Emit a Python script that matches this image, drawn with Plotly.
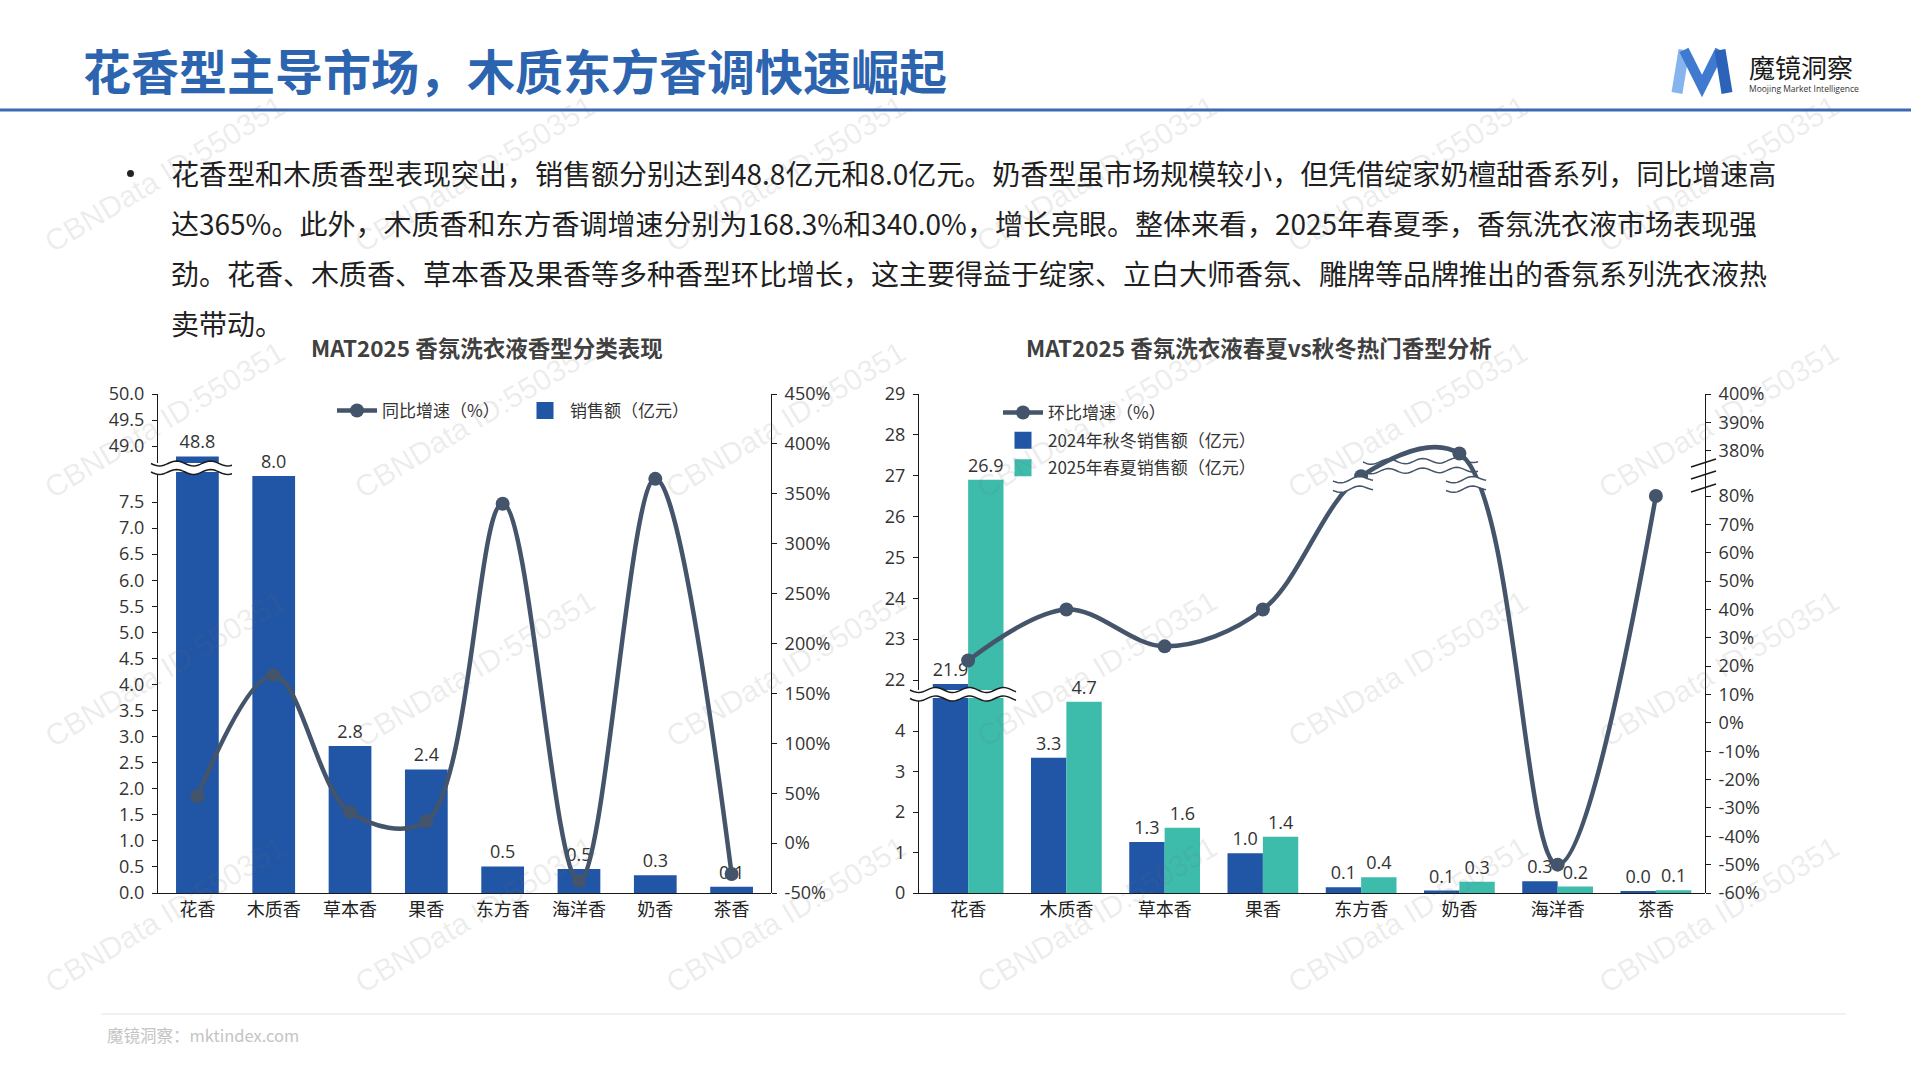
import math
import plotly.graph_objects as go

W, H = 1911, 1080

# ---------------- data ----------------
page_title = "花香型主导市场，木质东方香调快速崛起"
body_lines = [
    "花香型和木质香型表现突出，销售额分别达到48.8亿元和8.0亿元。奶香型虽市场规模较小，但凭借绽家奶檀甜香系列，同比增速高",
    "达365%。此外，木质香和东方香调增速分别为168.3%和340.0%，增长亮眼。整体来看，2025年春夏季，香氛洗衣液市场表现强",
    "劲。花香、木质香、草本香及果香等多种香型环比增长，这主要得益于绽家、立白大师香氛、雕牌等品牌推出的香氛系列洗衣液热",
    "卖带动。",
]
left_title = "MAT2025 香氛洗衣液香型分类表现"
right_title = "MAT2025 香氛洗衣液春夏vs秋冬热门香型分析"
footer_text = "魔镜洞察：mktindex.com"
watermark_text = "CBNData ID:550351"

left_categories = ["花香", "木质香", "草本香", "果香", "东方香", "海洋香", "奶香", "茶香"]
left_sales = [48.8, 8.0, 2.82, 2.37, 0.51, 0.46, 0.34, 0.12]
left_yoy = [47, 168.3, 31, 22, 340.0, -38, 365, -31]
left_sales_name = "销售额（亿元）"
left_yoy_name = "同比增速（%）"
left_lower_ticks = [0.0, 0.5, 1.0, 1.5, 2.0, 2.5, 3.0, 3.5, 4.0, 4.5, 5.0, 5.5, 6.0, 6.5, 7.0, 7.5]
left_upper_ticks = [49.0, 49.5, 50.0]
left_pct_ticks = [-50, 0, 50, 100, 150, 200, 250, 300, 350, 400, 450]

right_categories = ["花香", "木质香", "草本香", "果香", "东方香", "奶香", "海洋香", "茶香"]
right_aw2024 = [21.9, 3.34, 1.26, 0.98, 0.14, 0.06, 0.29, 0.04]
right_ss2025 = [26.9, 4.72, 1.61, 1.39, 0.39, 0.28, 0.16, 0.07]
right_qoq = [22, 40, 27, 40, 371, 379, -50, 80]
right_aw_name = "2024年秋冬销售额（亿元）"
right_ss_name = "2025年春夏销售额（亿元）"
right_qoq_name = "环比增速（%）"
right_lower_ticks = [0, 1, 2, 3, 4]
right_upper_ticks = [22, 23, 24, 25, 26, 27, 28, 29]
right_pct_ticks = [-60, -50, -40, -30, -20, -10, 0, 10, 20, 30, 40, 50, 60, 70, 80, 380, 390, 400]

# ---------------- styles ----------------
BLUE = "#2155a5"
TEAL = "#3dbcac"
SLATE = "#44546a"
AXIS = "#1a1a1a"
LABEL = "#333333"
FONT = "Open Sans, Noto Sans CJK SC, sans-serif"
CJK = "Noto Sans CJK SC, sans-serif"


def fx(px):
    return px / W


def fy(py):
    return 1 - py / H


# broken-axis geometry (pixels)
L_X = (158, 771)
L_LOW = (472, 893)
L_UP = (394, 463)
L_LOW_RANGE = (0, (893 - 472) / 52.13)
L_UP_RANGE = (50 - (463 - 394) / 52.0, 50)

R_X = (919, 1705)
R_LOW = (698, 893)
R_UP = (394, 690)
R_LOW_RANGE = (0, (893 - 698) / 40.5)
R_UP_RANGE = (22 - (690 - 680) / 40.86, 29)

# right % axis is compressed above the break
PCT_BREAK = 200
PCT_OFFSET = 284


def pct_disp(v):
    return v - PCT_OFFSET if v > PCT_BREAK else v


def rotate(seq):
    # start the upper-segment traces with a point that lies below the visible range,
    # so the legend swatch (styled from the first point) can be enlarged without
    # changing any visible bar
    return list(seq[1:]) + list(seq[:1])


def swatch_line(n, color):
    return dict(color=color, width=[5] + [0] * (n - 1))


fig = go.Figure()

# ---------------- left chart ----------------
low_top = L_LOW_RANGE[1]
fig.add_trace(go.Bar(
    x=left_categories, y=[min(v, low_top) for v in left_sales],
    text=[f"{v:.1f}" if v <= low_top else "" for v in left_sales],
    textposition="outside", constraintext="none", cliponaxis=False, textangle=0,
    textfont=dict(size=18, color=LABEL, family=FONT),
    marker=dict(color=BLUE, line=dict(width=0)), width=0.56,
    xaxis="x", yaxis="y", showlegend=False,
))
fig.add_trace(go.Bar(
    x=rotate(left_categories), y=rotate(left_sales),
    text=rotate([f"{v:.1f}" if v >= L_UP_RANGE[0] else "" for v in left_sales]),
    textposition="outside", constraintext="none", cliponaxis=True, textangle=0,
    textfont=dict(size=18, color=LABEL, family=FONT),
    marker=dict(color=BLUE, line=swatch_line(len(left_sales), BLUE)), width=0.56,
    xaxis="x", yaxis="y2", name=left_sales_name, legend="legend", legendrank=2,
))
fig.add_trace(go.Scatter(
    x=left_categories, y=left_yoy, mode="lines+markers",
    line=dict(color=SLATE, width=4.5, shape="spline", smoothing=1.0),
    marker=dict(color=SLATE, size=14), cliponaxis=False,
    xaxis="x", yaxis="y3", name=left_yoy_name, legend="legend", legendrank=1,
))

# ---------------- right chart ----------------
rlow_top = R_LOW_RANGE[1]
for vals, col, name, off, rank in [(right_aw2024, BLUE, right_aw_name, -0.36, 2),
                                    (right_ss2025, TEAL, right_ss_name, 0.0, 3)]:
    fig.add_trace(go.Bar(
        x=right_categories, y=[min(v, rlow_top) for v in vals],
        text=[f"{v:.1f}" if v <= rlow_top else "" for v in vals],
        textposition="outside", constraintext="none", cliponaxis=False, textangle=0,
        textfont=dict(size=18, color=LABEL, family=FONT),
        marker=dict(color=col, line=dict(width=0)), width=0.36, offset=off,
        xaxis="x2", yaxis="y4", showlegend=False,
    ))
    fig.add_trace(go.Bar(
        x=rotate(right_categories), y=rotate(vals),
        text=rotate([f"{v:.1f}" if v >= R_UP_RANGE[0] else "" for v in vals]),
        textposition="outside", constraintext="none", cliponaxis=True, textangle=0,
        textfont=dict(size=18, color=LABEL, family=FONT),
        marker=dict(color=col, line=swatch_line(len(vals), col)), width=0.36, offset=off,
        xaxis="x2", yaxis="y5", name=name, legend="legend2", legendrank=rank,
        legendgroup=name,
    ))
fig.add_trace(go.Scatter(
    x=right_categories, y=[pct_disp(v) for v in right_qoq], mode="lines+markers",
    line=dict(color=SLATE, width=4.5, shape="spline", smoothing=1.0),
    marker=dict(color=SLATE, size=14), cliponaxis=False,
    xaxis="x2", yaxis="y6", name=right_qoq_name, legend="legend2", legendrank=1,
    legendgroup=right_qoq_name,
))

# ---------------- axes ----------------
tickfont = dict(size=18, color=LABEL, family=FONT)
catfont = dict(size=18, color="#222222", family=CJK)
yax_common = dict(showgrid=False, zeroline=False, showline=True, linecolor=AXIS, linewidth=1,
                  ticks="outside", ticklen=5, tickcolor=AXIS, tickwidth=1, tickfont=tickfont,
                  fixedrange=True, ticklabelstandoff=4, automargin=False)
xax_common = dict(type="category", showgrid=False, zeroline=False, showline=True, linecolor=AXIS,
                  linewidth=1, ticks="", tickfont=catfont, fixedrange=True, automargin=False)

fig.update_layout(
    xaxis=dict(domain=[fx(L_X[0]), fx(L_X[1])], anchor="y", categoryorder="array",
               categoryarray=left_categories, **xax_common),
    yaxis=dict(domain=[fy(L_LOW[1]), fy(L_LOW[0])], anchor="x", range=list(L_LOW_RANGE),
               tickvals=left_lower_ticks, ticktext=[f"{v:.1f}" for v in left_lower_ticks], **yax_common),
    yaxis2=dict(domain=[fy(L_UP[1]), fy(L_UP[0])], anchor="x", range=list(L_UP_RANGE),
                tickvals=left_upper_ticks, ticktext=[f"{v:.1f}" for v in left_upper_ticks], **yax_common),
    yaxis3=dict(domain=[fy(893), fy(394)], anchor="x", side="right", range=[-50, 450],
                tickvals=left_pct_ticks, ticktext=[f"{v}%" for v in left_pct_ticks], **yax_common),
    xaxis2=dict(domain=[fx(R_X[0]), fx(R_X[1])], anchor="y4", categoryorder="array",
                categoryarray=right_categories, **xax_common),
    yaxis4=dict(domain=[fy(R_LOW[1]), fy(R_LOW[0])], anchor="x2", range=list(R_LOW_RANGE),
                tickvals=right_lower_ticks, ticktext=[str(v) for v in right_lower_ticks], **yax_common),
    yaxis5=dict(domain=[fy(R_UP[1]), fy(R_UP[0])], anchor="x2", range=list(R_UP_RANGE),
                tickvals=right_upper_ticks, ticktext=[str(v) for v in right_upper_ticks], **yax_common),
    yaxis6=dict(domain=[fy(893), fy(394)], anchor="x2", side="right",
                range=[pct_disp(-60), pct_disp(400)],
                tickvals=[pct_disp(v) for v in right_pct_ticks],
                ticktext=[f"{v}%" for v in right_pct_ticks], **yax_common),
)

fig.update_layout(
    width=W, height=H, autosize=False,
    margin=dict(l=0, r=0, t=0, b=0, pad=0, autoexpand=False),
    paper_bgcolor="white", plot_bgcolor="rgba(0,0,0,0)",
    barmode="overlay", hovermode=False,
    font=dict(family=FONT, color=LABEL),
    legend=dict(orientation="h", x=fx(332), y=fy(411), xanchor="left", yanchor="middle",
                font=dict(size=17, color=LABEL, family=CJK), bgcolor="rgba(0,0,0,0)",
                traceorder="normal", itemwidth=40, entrywidthmode="pixels", entrywidth=133),
    legend2=dict(orientation="v", x=fx(998), y=fy(395), xanchor="left", yanchor="top",
                 font=dict(size=17, color=LABEL, family=CJK), bgcolor="rgba(0,0,0,0)",
                 traceorder="grouped", itemwidth=40, tracegroupgap=2.5),
)

# ---------------- decorations ----------------
shapes = []
annotations = []


def wave_pts(x0, x1, yc, amp=2.5, period=34.0, tilt=0.0):
    n = max(8, int((x1 - x0) / period * 16))
    pts = []
    for i in range(n + 1):
        x = x0 + (x1 - x0) * i / n
        y = yc + amp * math.sin(2 * math.pi * (x - x0) / period) - tilt * (x - x0) / (x1 - x0)
        pts.append((x, y))
    return pts


def path_of(pts, close=False):
    s = "M " + " L ".join(f"{fx(x):.5f},{fy(y):.5f}" for x, y in pts)
    return s + (" Z" if close else "")


def add_break(x0, x1, y_top, y_bot, color=AXIS, fill=True, lw=1.5, tilt=0.0):
    top = wave_pts(x0, x1, y_top, tilt=tilt)
    bot = wave_pts(x0, x1, y_bot, tilt=tilt)
    if fill:
        shapes.append(dict(type="path", xref="paper", yref="paper",
                           path=path_of(top + bot[::-1], close=True),
                           fillcolor="white", line=dict(width=0), layer="above"))
    for p in (top, bot):
        shapes.append(dict(type="path", xref="paper", yref="paper", path=path_of(p),
                           line=dict(color=color, width=lw), layer="above"))


# axis breaks
add_break(151, 232, 463.5, 472)
add_break(910, 1016, 690, 698.5)
# breaks on the right-hand growth line
add_break(1333, 1373, 481, 490.5, color=SLATE, tilt=3)
add_break(1446, 1486, 481, 490.5, color=SLATE, tilt=3)
add_break(1363, 1478, 462, 471.5, color=SLATE, fill=False, tilt=2)
# right % axis break marks
for yc in (463, 475, 488):
    shapes.append(dict(type="line", xref="paper", yref="paper",
                       x0=fx(1691), y0=fy(yc + 4), x1=fx(1716), y1=fy(yc - 4),
                       line=dict(color=AXIS, width=1.6), layer="above"))

# header rule and footer rule
shapes.append(dict(type="line", xref="paper", yref="paper", x0=0, x1=1, y0=fy(110), y1=fy(110),
                   line=dict(color="#3b6ab3", width=3)))
shapes.append(dict(type="line", xref="paper", yref="paper", x0=fx(101), x1=fx(1846),
                   y0=fy(1014), y1=fy(1014), line=dict(color="#ececec", width=1.5)))

# logo "M"
shapes.append(dict(type="path", xref="paper", yref="paper",
                   path=path_of([(1677, 93), (1684, 50)]), line=dict(color="#86b4ec", width=11)))
shapes.append(dict(type="path", xref="paper", yref="paper",
                   path=path_of([(1684, 50), (1702, 86), (1720, 50)]), line=dict(color="#3f7ad0", width=10)))
shapes.append(dict(type="path", xref="paper", yref="paper",
                   path=path_of([(1720, 50), (1727, 93)]), line=dict(color="#2c62b8", width=11)))

# bullet dot
shapes.append(dict(type="circle", xref="paper", yref="paper",
                   x0=fx(127), x1=fx(134), y0=fy(177), y1=fy(170),
                   fillcolor="#222222", line=dict(width=0)))


# texts
def txt(x, y, text, size, color, family=CJK, xanchor="left", yanchor="middle", **kw):
    annotations.append(dict(x=fx(x), y=fy(y), xref="paper", yref="paper", text=text,
                            showarrow=False, xanchor=xanchor, yanchor=yanchor,
                            font=dict(size=size, color=color, family=family), **kw))


txt(81, 69, f"<b>{page_title}</b>", 48, "#2c64b0")
txt(1747, 66, "魔镜洞察", 26, "#1a1a1a")
txt(1747, 88, "Moojing Market Intelligence", 8.5, "#333333", family="Open Sans, sans-serif")
for i, line in enumerate(body_lines):
    txt(169, 173 + 50 * i, line, 28, "#1f1f1f")
txt(487, 347, f"<b>{left_title}</b>", 22.5, "#404040", xanchor="center")
txt(1259, 347, f"<b>{right_title}</b>", 22.5, "#404040", xanchor="center")
txt(105, 1035, footer_text, 16.5, "#c4c4c4")

# watermarks
for wy in (174, 420, 668, 914):
    for wx in (165, 475, 786, 1097, 1408, 1719):
        txt(wx, wy, watermark_text, 30, "rgba(110,110,110,0.12)",
            family="Liberation Sans, Arial, sans-serif", xanchor="center", textangle=-31)

fig.update_layout(shapes=shapes, annotations=annotations)

fig.write_html("out.html")
